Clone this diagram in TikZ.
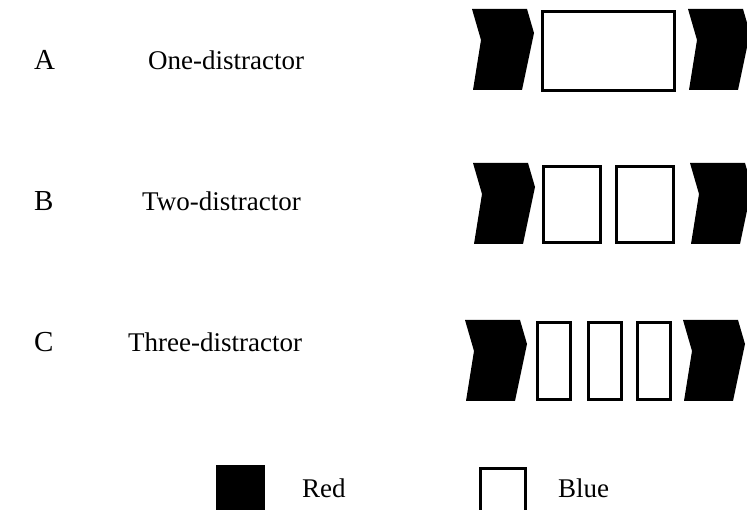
\documentclass[tikz,border=0pt]{standalone}
\usepackage{fontspec}
\setmainfont{Liberation Serif}
\usepackage{tikz}

\begin{document}
\begin{tikzpicture}[x=1pt,y=-1pt,
  lbl/.style={anchor=base west,inner sep=0pt,font=\fontsize{27}{30}\selectfont},
  row/.style={lbl,font=\fontsize{29}{32}\selectfont},
  bbox/.style={draw,line width=3pt,inner sep=0pt,anchor=north west},
  chev/.pic={\fill (0,0) -- (55,0) -- (62,24) -- (50,81) -- (1,81) -- (9,31) -- cycle;}]
\useasboundingbox (0,0) rectangle (747,510);
\clip (0,0) rectangle (747,510);
% row labels
\node[row] (la) at (34,70) {A};
\node[lbl] (ta) at (148,70) {One-distractor};
\node[row] (lb) at (34,211) {B};
\node[lbl] (tb) at (142,211) {Two-distractor};
\node[row] (lc) at (34,352) {C};
\node[lbl] (tc) at (128,352) {Three-distractor};
% A
\pic at (472,9) {chev};
\node[bbox,minimum width=132pt,minimum height=79pt] (a1) at (540.5,10.5) {};
\pic at (688,9) {chev};
% B
\pic at (473,163) {chev};
\node[bbox,minimum width=57pt,minimum height=76pt] (b1) at (541.5,165.5) {};
\node[bbox,minimum width=57pt,minimum height=76pt] (b2) at (614.5,165.5) {};
\pic at (690,163) {chev};
% C
\pic at (465,320) {chev};
\node[bbox,minimum width=33pt,minimum height=77pt] (c1) at (535.5,321.5) {};
\node[bbox,minimum width=33pt,minimum height=77pt] (c2) at (586.5,321.5) {};
\node[bbox,minimum width=33pt,minimum height=77pt] (c3) at (635.5,321.5) {};
\pic at (683,320) {chev};
% legend
\fill (216,465) rectangle (265,512);
\node[lbl] (red) at (302,497) {Red};
\node[bbox,minimum width=45pt,minimum height=46pt] (blue) at (478.5,466.5) {};
\node[lbl] (bluet) at (558,497) {Blue};
\end{tikzpicture}
\end{document}
